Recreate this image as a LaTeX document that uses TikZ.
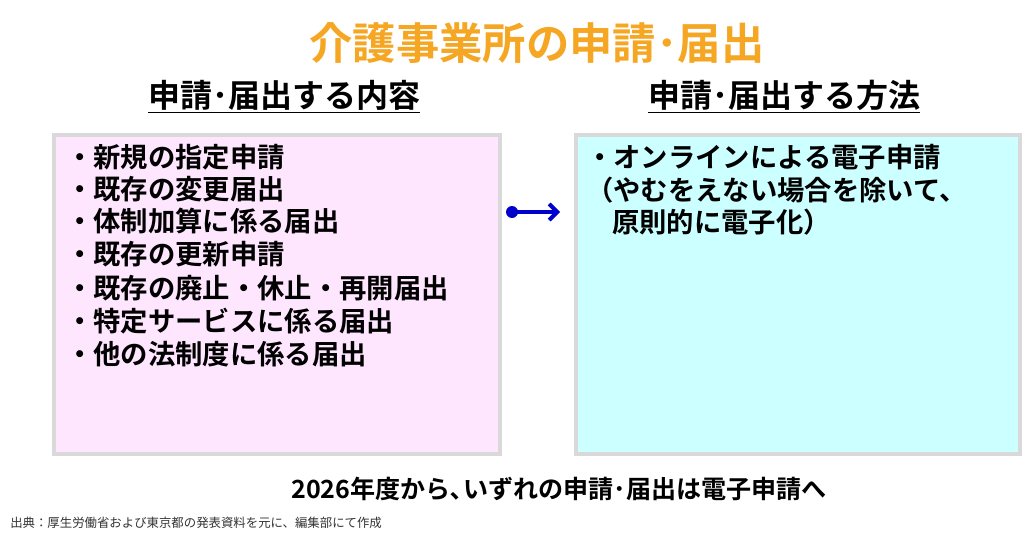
\documentclass[tikz,border=0pt]{standalone}
\usepackage{fontspec}
\setmainfont{Noto Sans CJK JP}[BoldFont={* Bold}]
\newfontfamily\cjkb{Noto Sans CJK JP Bold}
\usetikzlibrary{arrows.meta}
\definecolor{ttl}{HTML}{F5A623}
\definecolor{bord}{HTML}{D9D9D9}
\definecolor{pinkf}{HTML}{FFE6FF}
\definecolor{cyanf}{HTML}{CCFFFF}
\definecolor{arr}{HTML}{0000CC}
\begin{document}
\begin{tikzpicture}[x=0.75pt,y=-0.75pt,
  item/.style={anchor=west,inner sep=0,font=\fontsize{20.5}{24}\selectfont\cjkb},
  head/.style={inner sep=0,font=\fontsize{24}{28}\selectfont\cjkb},
  panel/.style={draw=bord,line width=3pt}]
\useasboundingbox (0,0) rectangle (1024,542);
\node[inner sep=0,text=ttl,font=\fontsize{32.5}{36}\selectfont\cjkb] (title) at (537,43) {介護事業所の申請･届出};
\node[head] (h1) at (284,97) {\underline{申請･届出する内容}};
\node[head] (h2) at (784,97) {\underline{申請･届出する方法}};
\draw[panel,fill=pinkf] (54,135) rectangle (500,454);
\draw[panel,fill=cyanf] (576,135) rectangle (1020,454);
\node[item] (l1) at (66,157) {・新規の指定申請};
\node[item] (l2) at (66,189) {・既存の変更届出};
\node[item] (l3) at (66,221) {・体制加算に係る届出};
\node[item] (l4) at (66,254) {・既存の更新申請};
\node[item] (l5) at (66,288) {・既存の廃止・休止・再開届出};
\node[item] (l6) at (66,321) {・特定サービスに係る届出};
\node[item] (l7) at (66,354) {・他の法制度に係る届出};
\node[item] (r1) at (586,157) {・オンラインによる電子申請};
\node[item] (r2) at (586,190) {（やむをえない場合を除いて、};
\node[item] (r3) at (612,222) {原則的に電子化）};
\coordinate (a) at (512,212);
\coordinate (b) at (560,212);
\fill[arr] (a) circle (6);
\draw[arr,line width=3pt,-{Straight Barb[length=6pt,width=12pt]}] (a) -- (b);
\node[inner sep=0,font=\fontsize{18.8}{22}\selectfont\cjkb] (bot) at (559,489) {2026年度から､いずれの申請･届出は電子申請へ};
\node[anchor=west,inner sep=0,text=black!80,font=\fontsize{9.3}{10}\selectfont] (src) at (10,523) {出典：厚生労働省および東京都の発表資料を元に、編集部にて作成};
\end{tikzpicture}
\end{document}
